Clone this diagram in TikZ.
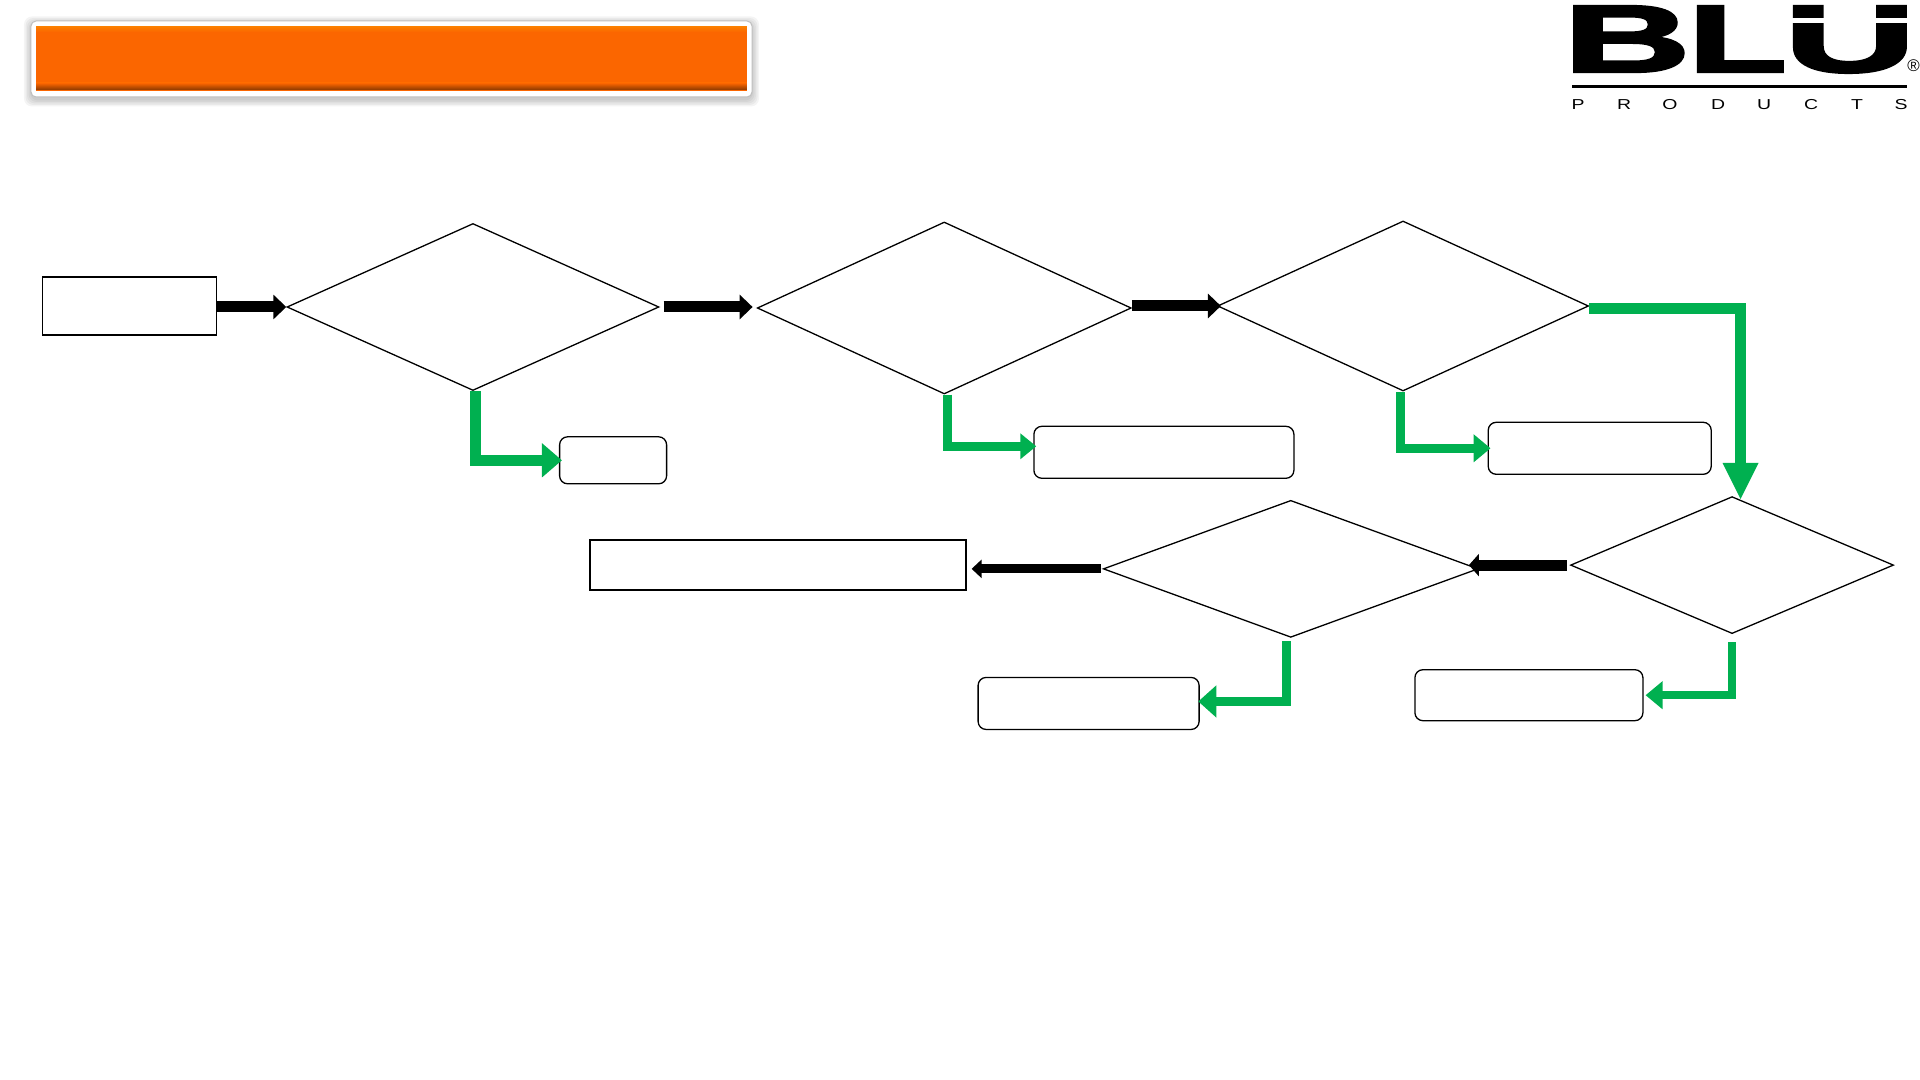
\documentclass[tikz,border=0pt]{standalone}
\usepackage{fontspec}
\usepackage{xcolor}
\usetikzlibrary{positioning,arrows.meta,calc,shapes.geometric}
\newfontfamily\logofont[UprightFont={* Bold},FakeBold=2.5]{Liberation Sans}
\newfontfamily\prodfont{Liberation Sans}
\definecolor{bargreen}{HTML}{00B050}
\definecolor{barorange}{HTML}{FB6600}

\begin{document}
\begin{tikzpicture}[
      box/.style={draw, line width=0.016cm, inner sep=0pt},
      roundbox/.style={draw, line width=0.013cm, rounded corners=0.08cm, inner sep=0pt},
      decision/.style={draw, diamond, line width=0.013cm, inner sep=0pt},
      blackbar/.style n args={3}{draw=black, line width=#1, -{Triangle[length=#2, width=#3]}},
      greenbar/.style n args={3}{draw=bargreen, line width=#1, -{Triangle[length=#2, width=#3]}},
      logoletter/.style={inner sep=0pt, text=black, font=\logofont},
      prodletter/.style={inner sep=0pt, text=black, xscale=1.35, font=\prodfont\fontsize{4.1pt}{5pt}\selectfont}
  ]
    \useasboundingbox (0,0) rectangle (19.2,-10.8);

    % title bar
    \foreach \grow in {0.07,0.055,0.04,0.025,0.01}
      \fill[black, opacity=0.045, rounded corners=0.08cm] (0.31-\grow,-0.21-0.025+\grow) rectangle (7.52+\grow,-0.97-0.025-\grow);
    \node[fill=white, draw=black!25, line width=0.01cm, rounded corners=0.05cm, minimum width=7.21cm, minimum height=0.76cm, inner sep=0pt] (banner) at (3.915,-0.59) {};
    \node[fill=barorange, minimum width=7.105cm, minimum height=0.64cm, inner sep=0pt] (bar) at (banner.center) {};
    \node[top color=barorange, bottom color=barorange!55!black, minimum width=7.105cm, minimum height=0.07cm, inner sep=0pt, anchor=south] (barlow) at ([yshift=0.01cm]bar.south) {};
    \node[top color=barorange!85!yellow, bottom color=barorange, minimum width=7.105cm, minimum height=0.05cm, inner sep=0pt, anchor=north] (bartop) at (bar.north) {};

    % logo
    \node[logoletter, xscale=5.0, yscale=2.72] (logob) at (16.27,-0.39) {B};
    \node[logoletter, xscale=4.6, yscale=2.72] (logol) at (17.375,-0.39) {L};
    \node[logoletter, xscale=5.18, yscale=2.72] (logou) at (18.5,-0.395) {\makebox[0.64em]{U}};
    \draw[white, line width=0.05cm] (17.85,-0.21) -- (19.15,-0.21);
    \draw[black, line width=0.035cm] (15.72,-0.865) -- (19.07,-0.865);
    \node[inner sep=0pt, font=\prodfont\fontsize{4.8pt}{5pt}\selectfont] (logoreg) at (19.135,-0.66) {®};
    \foreach \letter/\xpos in {P/15.78,R/16.24,O/16.70,D/17.18,U/17.64,C/18.11,T/18.57,S/19.01}
      \node[prodletter] (prod\letter) at (\xpos,-1.05) {\letter};

    % first row
    \node[box, minimum width=1.74cm, minimum height=0.58cm] (start) at (1.295,-3.06) {};
    \node[decision, minimum width=3.72cm, minimum height=1.67cm, right=0.69cm of start, yshift=-0.01cm] (dec1) {};
    \node[decision, minimum width=3.74cm, minimum height=1.72cm, right=0.97cm of dec1, yshift=-0.01cm] (dec2) {};
    \node[decision, minimum width=3.71cm, minimum height=1.70cm, right=0.85cm of dec2, yshift=0.02cm] (dec3) {};

    \node[roundbox, minimum width=1.07cm, minimum height=0.47cm, below right=0.45cm and 0.86cm of dec1.south] (res1) {};
    \node[roundbox, minimum width=2.60cm, minimum height=0.52cm, below right=0.31cm and 0.89cm of dec2.south] (res2) {};
    \node[roundbox, minimum width=2.23cm, minimum height=0.52cm, below right=0.30cm and 0.845cm of dec3.south] (res3) {};

    % second row
    \node[decision, minimum width=3.23cm, minimum height=1.37cm, below=1.043cm of dec3.south, xshift=3.29cm] (dec4) {};
    \node[decision, minimum width=3.75cm, minimum height=1.37cm, left=0.91cm of dec4, yshift=-0.0375cm] (dec5) {};
    \node[box, minimum width=3.76cm, minimum height=0.50cm, left=1.36cm of dec5, yshift=0.038cm] (finish) {};

    \node[roundbox, minimum width=2.21cm, minimum height=0.52cm, below left=0.388cm and 0.91cm of dec5.south] (res5) {};
    \node[roundbox, minimum width=2.28cm, minimum height=0.51cm, below left=0.348cm and 0.885cm of dec4.south] (res4) {};

    % black arrows
    \draw[blackbar={0.11cm}{0.13cm}{0.24cm}] (start.east |- dec1.west) -- (dec1.west);
    \draw[blackbar={0.11cm}{0.13cm}{0.24cm}, shorten <=0.04cm, shorten >=0.04cm] (dec1.east) -- (dec1.east -| dec2.west);
    \draw[blackbar={0.11cm}{0.13cm}{0.24cm}, shorten >=-0.04cm] (dec3.west -| dec2.east) -- (dec3.west);
    \draw[blackbar={0.11cm}{0.10cm}{0.22cm}, shorten <=0.03cm, shorten >=-0.10cm] (dec4.west) -- (dec4.west -| dec5.east);
    \draw[blackbar={0.09cm}{0.10cm}{0.18cm}, shorten <=0.02cm, shorten >=0.05cm] (dec5.west) -- (dec5.west -| finish.east);

    % green arrows
    \draw[greenbar={0.11cm}{0.20cm}{0.33cm}, shorten >=-0.03cm] ([xshift=0.03cm]dec1.south) |- (res1.west);
    \draw[greenbar={0.09cm}{0.16cm}{0.25cm}, shorten >=-0.03cm] ([xshift=0.035cm]dec2.south) |- ([yshift=0.06cm]res2.west);
    \draw[greenbar={0.09cm}{0.17cm}{0.27cm}, shorten >=-0.03cm] ([xshift=-0.025cm]dec3.south) |- (res3.west);
    \draw[greenbar={0.115cm}{0.37cm}{0.33cm}, shorten >=-0.04cm] ([yshift=-0.025cm]dec3.east) -| ([xshift=0.085cm]dec4.north);
    \draw[greenbar={0.085cm}{0.17cm}{0.27cm}, shorten <=0.08cm, shorten >=0.02cm] (dec4.south) |- (res4.east);
    \draw[greenbar={0.09cm}{0.18cm}{0.31cm}, shorten <=0.03cm, shorten >=-0.015cm] ([xshift=-0.045cm]dec5.south) |- ([yshift=0.02cm]res5.east);
\end{tikzpicture}
\end{document}
